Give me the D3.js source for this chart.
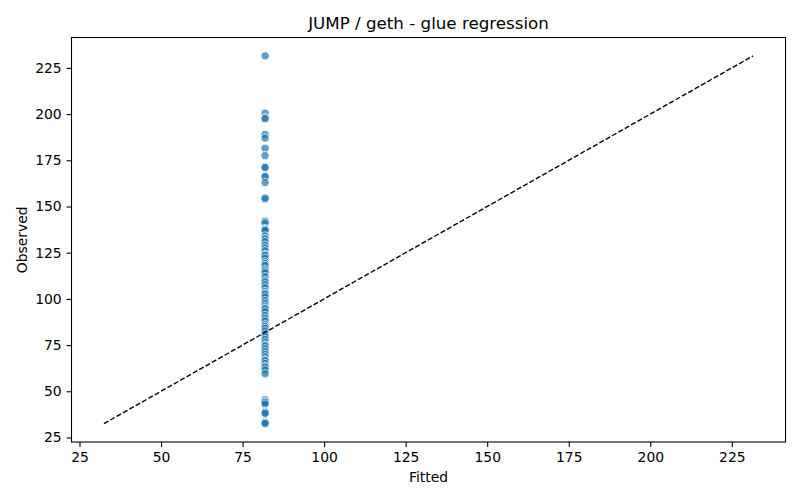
<!DOCTYPE html>
<html>
<head>
<meta charset="utf-8">
<script src="https://cdn.jsdelivr.net/npm/d3@7"></script>
<style>
  body{margin:0;background:#fff;}
  svg{font-family:"DejaVu Sans",sans-serif;}
</style>
</head>
<body>
<script>
// data
const fittedValue = 81.9
const observed = [
  231.5, 200.5, 198, 197.5, 189, 187, 181.5, 177.5, 171.5, 171, 166.5, 166, 163, 154, 154.5,
  142, 141, 138, 137.5, 137, 134, 132.5, 131, 129, 127.5, 126, 124, 123.5, 122, 120, 119, 118,
  116, 115, 114, 112, 110, 109, 107.5, 106, 104, 103, 102.5, 101, 99, 97.5, 96, 95, 94.5, 93,
  91, 89.5, 88, 86, 85, 84, 82.5, 81, 79.5, 78, 76.5, 75, 74.5, 73, 71.5, 70, 68.5, 67, 66.5,
  65, 63.5, 63, 61.5, 59.5,
  45.5, 44.5, 44, 43, 39, 38.5, 38, 33.5, 33, 32.5
]
const xTicks = [25, 50, 75, 100, 125, 150, 175, 200, 225]
const yTicks = [25, 50, 75, 100, 125, 150, 175, 200, 225]
const title = "JUMP / geth - glue regression"

const width = 800, height = 500
const margin = {left:71.5, right:14.5, top:37.5, bottom:58}

const points = observed.map(v => ({fitted: fittedValue, observed: v}))
const lo = Math.min(d3.min(observed), fittedValue)
const hi = Math.max(d3.max(observed), fittedValue)
const pad = (hi - lo) * 0.05

const x = d3.scaleLinear().domain([lo - pad, hi + pad]).range([margin.left, width - margin.right])
const y = d3.scaleLinear().domain([lo - pad, hi + pad]).range([height - margin.bottom, margin.top])

const svg = d3.select("body").append("svg").attr("width", width).attr("height", height)

// points
svg.append("g")
  .selectAll("circle")
  .data(points)
  .join("circle")
  .attr("cx", d => x(d.fitted))
  .attr("cy", d => y(d.observed))
  .attr("r", 4.2)
  .attr("fill", "#1f77b4")
  .attr("stroke", "white")
  .attr("stroke-width", 1)
  .attr("opacity", 0.7)

// identity line
svg.append("line")
  .attr("x1", x(lo)).attr("y1", y(lo))
  .attr("x2", x(hi)).attr("y2", y(hi))
  .attr("stroke", "black")
  .attr("stroke-width", 1.39)
  .attr("stroke-dasharray", "5.1,2.2")

// axes
const xAxis = svg.append("g")
  .attr("transform", `translate(0,${height - margin.bottom})`)
  .call(d3.axisBottom(x).tickValues(xTicks).tickSize(4.9).tickPadding(4.9))
const yAxis = svg.append("g")
  .attr("transform", `translate(${margin.left},0)`)
  .call(d3.axisLeft(y).tickValues(yTicks).tickSize(4.9).tickPadding(4.9))
;[xAxis, yAxis].forEach(a => {
  a.select(".domain").remove()
  a.selectAll(".tick line").attr("stroke", "black").attr("stroke-width", 1.1)
  a.selectAll(".tick text").attr("fill", "black").style("font-size", "13.9px").style("font-family", "DejaVu Sans")
})

// frame
svg.append("rect")
  .attr("x", margin.left).attr("y", margin.top)
  .attr("width", width - margin.left - margin.right)
  .attr("height", height - margin.top - margin.bottom)
  .attr("fill", "none").attr("stroke", "black").attr("stroke-width", 1.1)

svg.append("text")
  .attr("x", (margin.left + width - margin.right) / 2).attr("y", 29)
  .attr("text-anchor", "middle").style("font-size", "16.7px")
  .text(title)
svg.append("text")
  .attr("x", (margin.left + width - margin.right) / 2).attr("y", 482)
  .attr("text-anchor", "middle").style("font-size", "13.9px")
  .text("Fitted")
svg.append("text")
  .attr("transform", `translate(27,${(margin.top + height - margin.bottom) / 2}) rotate(-90)`)
  .attr("text-anchor", "middle").style("font-size", "13.9px")
  .text("Observed")
</script>
</body>
</html>
